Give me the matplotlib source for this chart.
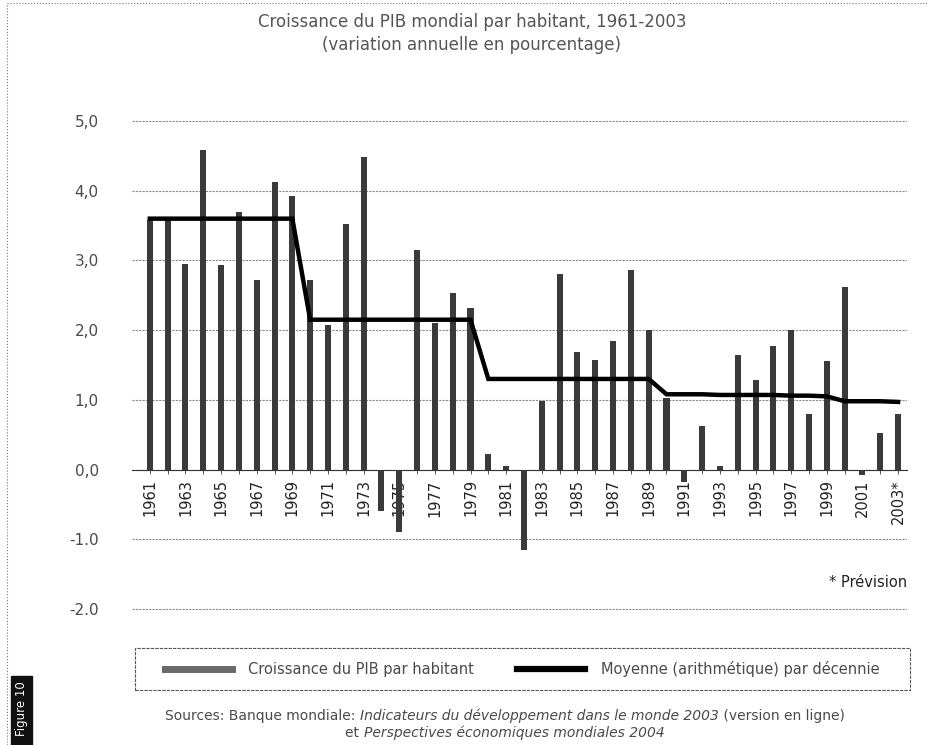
import matplotlib
matplotlib.use("Agg")
import matplotlib.pyplot as plt
from matplotlib.lines import Line2D
from matplotlib.patches import Rectangle

# data
years = list(range(1961, 2004))
growth = [3.58, 3.58, 2.95, 4.59, 2.93, 3.70, 2.72, 4.12, 3.92,
          2.72, 2.07, 3.53, 4.49, -0.60, -0.90, 3.15, 2.10, 2.54, 2.32,
          0.23, 0.05, -1.15, 0.98, 2.81, 1.69, 1.57, 1.84, 2.86, 2.00,
          1.02, -0.18, 0.62, 0.05, 1.65, 1.29, 1.77, 2.00, 0.80, 1.56,
          2.62, -0.08, 0.52, 0.80]
decade_mean = [3.60, 3.60, 3.60, 3.60, 3.60, 3.60, 3.60, 3.60, 3.60,
               2.15, 2.15, 2.15, 2.15, 2.15, 2.15, 2.15, 2.15, 2.15, 2.15,
               1.30, 1.30, 1.30, 1.30, 1.30, 1.30, 1.30, 1.30, 1.30, 1.30,
               1.08, 1.08, 1.08, 1.07, 1.07, 1.07, 1.07, 1.06, 1.06, 1.05,
               0.98, 0.98, 0.98, 0.97]
label_years = years[::2]
label_text = [str(y) for y in label_years[:-1]] + ["2003*"]
yticks = [5, 4, 3, 2, 1, 0, -1, -2]
ytick_labels = ["5,0", "4,0", "3,0", "2,0", "1,0", "0,0", "-1.0", "-2.0"]

W, H = 928, 745
txt = "#4a4a4a"

fig = plt.figure(figsize=(W / 100, H / 100), dpi=100)
# a little margin round -2..5 so the end gridlines are not clipped
ax = fig.add_axes([132 / W, (H - 611) / H, (907 - 132) / W, (611 - 119) / H])

ax.bar(years, growth, width=0.34, color="#3a3a3a", zorder=3)
ax.plot(years, decade_mean, color="black", lw=3.2, zorder=4,
        solid_joinstyle="miter")

ax.set_xlim(1960.0, 2003.5)
ax.set_ylim(-2.03, 5.03)
ax.set_yticks(yticks)
ax.set_yticklabels(ytick_labels, fontsize=11, color=txt)
ax.tick_params(axis="y", length=0, pad=24)
ax.yaxis.grid(True, color="#8a8a8a", lw=0.8, ls=(0, (2, 1)))
ax.set_axisbelow(True)

# x axis sits on the zero line, labels just under it
ax.spines["bottom"].set_position(("data", 0))
ax.spines["bottom"].set_color("#333333")
for s in ("top", "left", "right"):
    ax.spines[s].set_visible(False)
ax.set_xticks(label_years)
ax.set_xticklabels(label_text, rotation=90, fontsize=10.5, color="#222222")
ax.set_xticks(years, minor=True)
ax.tick_params(axis="x", which="both", length=3, width=0.7, color="#555555", pad=4)

ax.text(2003.5, -1.62, "* Prévision", ha="right", va="center", fontsize=10.5, color="#222222")

# titles
fig.text(472 / W, 1 - 22 / H, "Croissance du PIB mondial par habitant, 1961-2003",
         ha="center", va="center", fontsize=12, color="#555555")
fig.text(472 / W, 1 - 45 / H, "(variation annuelle en pourcentage)",
         ha="center", va="center", fontsize=12, color="#555555")

# legend in a dashed box
fig.patches.append(Rectangle((135 / W, 1 - 690 / H), (910 - 135) / W, 42 / H,
                             transform=fig.transFigure, fill=False,
                             ec="#555555", lw=0.8, ls=(0, (3, 1))))
handles = [Line2D([], [], color="#6a6a6a", lw=5),
           Line2D([], [], color="black", lw=4.5)]
fig.legend(handles, ["Croissance du PIB par habitant",
                     "Moyenne (arithmétique) par décennie"],
           loc="center", bbox_to_anchor=(522 / W, 1 - 669 / H), ncol=2,
           frameon=False, fontsize=10.5, handlelength=4.6, handletextpad=1.1,
           columnspacing=3.0, labelcolor=txt)

# sources, with italic titles
def rich_line(ypix, parts, cx=505):
    items = [fig.text(0, 1 - ypix / H, s, fontsize=10, style=st, color=txt,
                      ha="left", va="center") for s, st in parts]
    fig.canvas.draw()
    r = fig.canvas.get_renderer()
    widths = [t.get_window_extent(r).width for t in items]
    x = cx - sum(widths) / 2
    for t, w in zip(items, widths):
        t.set_x(x / W)
        x += w

rich_line(716, [("Sources: Banque mondiale: ", "normal"),
                ("Indicateurs du développement dans le monde 2003", "italic"),
                (" (version en ligne)", "normal")])
rich_line(733, [("et ", "normal"),
                ("Perspectives économiques mondiales 2004", "italic")])

# "Figure 10" tab and page border
fig.patches.append(Rectangle((11 / W, 0), 21 / W, (H - 676) / H,
                             transform=fig.transFigure, color="#111111"))
fig.text(21.5 / W, 1 - 709 / H, "Figure 10", rotation=90, ha="center", va="center",
         fontsize=8.5, color="white")
fig.add_artist(Line2D([7 / W, 7 / W], [0, 1 - 3 / H], color="#777777", lw=0.8, ls=":"))
fig.add_artist(Line2D([7 / W, 1], [1 - 3 / H, 1 - 3 / H], color="#777777", lw=0.8, ls=":"))

fig.savefig("out.png", dpi=100)
